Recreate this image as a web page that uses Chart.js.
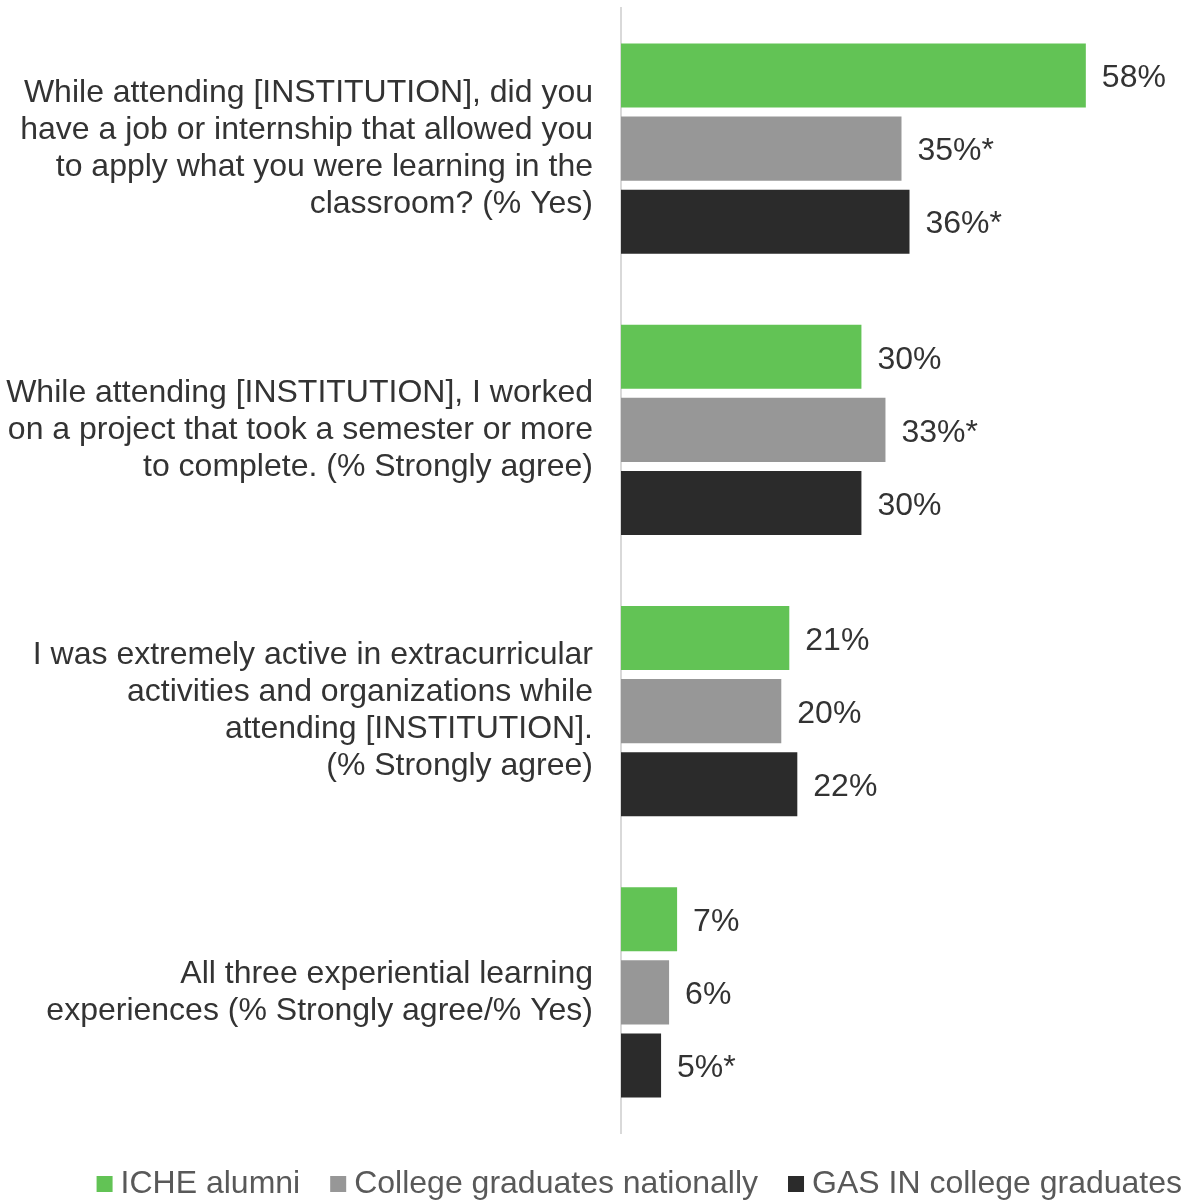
<!DOCTYPE html>
<html>
<head>
<meta charset="utf-8">
<script src="https://cdn.jsdelivr.net/npm/chart.js@4"></script>
<style>
  html, body { margin: 0; padding: 0; background: #fff; }
  #wrap { width: 1187px; height: 1200px; }
</style>
</head>
<body>
<div id="wrap"><canvas id="chart"></canvas></div>
<script>
const questions = [
  ["While attending [INSTITUTION], did you", "have a job or internship that allowed you", "to apply what you were learning in the", "classroom? (% Yes)"],
  ["While attending [INSTITUTION], I worked", "on a project that took a semester or more", "to complete. (% Strongly agree)"],
  ["I was extremely active in extracurricular", "activities and organizations while", "attending [INSTITUTION].", "(% Strongly agree)"],
  ["All three experiential learning", "experiences (% Strongly agree/% Yes)"],
];
const seriesNames = ["ICHE alumni", "College graduates nationally", "GAS IN college graduates"];
const icheAlumni = [58, 30, 21, 7];
const nationalGrads = [35, 33, 20, 6];
const gasInGrads = [36, 30, 22, 5];
// "*" = significant difference vs ICHE alumni
const icheMarks = ["", "", "", ""];
const nationalMarks = ["*", "*", "", ""];
const gasInMarks = ["*", "", "", "*"];
const seriesColors = ["#62c355", "#979797", "#2b2b2b"];

const FONT = "'Liberation Sans', Arial, sans-serif";
const TEXT_COLOR = "#333333";

// value text to the right of each bar
const valueLabels = {
  id: "valueLabels",
  afterDatasetsDraw(chart) {
    const ctx = chart.ctx;
    ctx.save();
    ctx.font = "32px " + FONT;
    ctx.fillStyle = TEXT_COLOR;
    ctx.textAlign = "left";
    ctx.textBaseline = "middle";
    chart.data.datasets.forEach((ds, i) => {
      chart.getDatasetMeta(i).data.forEach((bar, j) => {
        ctx.fillText(ds.data[j] + "%" + ds.marks[j], bar.x + 16, bar.y + 3);
      });
    });
    ctx.restore();
  },
};

// legend row under the plot, tight box-to-text spacing
const bottomLegend = {
  id: "bottomLegend",
  afterDraw(chart) {
    const ctx = chart.ctx;
    ctx.save();
    ctx.font = "32px " + FONT;
    ctx.textBaseline = "middle";
    const box = 16, boxGap = 8, itemGap = 30;
    const widths = seriesNames.map((n) => ctx.measureText(n).width);
    const total =
      widths.reduce((s, w) => s + box + boxGap + w, 0) +
      itemGap * (seriesNames.length - 1);
    let x = chart.width - 5 - total;
    const y = chart.chartArea.bottom + 51;
    seriesNames.forEach((name, i) => {
      ctx.fillStyle = seriesColors[i];
      ctx.fillRect(x, y - box / 2, box, box);
      ctx.fillStyle = "#595959";
      ctx.fillText(name, x + box + boxGap, y);
      x += box + boxGap + widths[i] + itemGap;
    });
    ctx.restore();
  },
};

const datasetDefaults = {
  categoryPercentage: 0.779,
  barPercentage: 0.877,
};

new Chart(document.getElementById("chart").getContext("2d"), {
  type: "bar",
  data: {
    labels: questions,
    datasets: [
      { label: seriesNames[0], data: icheAlumni, marks: icheMarks, backgroundColor: seriesColors[0], ...datasetDefaults },
      { label: seriesNames[1], data: nationalGrads, marks: nationalMarks, backgroundColor: seriesColors[1], ...datasetDefaults },
      { label: seriesNames[2], data: gasInGrads, marks: gasInMarks, backgroundColor: seriesColors[2], ...datasetDefaults },
    ],
  },
  options: {
    indexAxis: "y",
    responsive: true,
    maintainAspectRatio: false,
    animation: false,
    layout: { padding: { top: 8, right: 5, bottom: 67, left: 0 } },
    plugins: {
      legend: { display: false },
      tooltip: { enabled: false },
    },
    scales: {
      x: { display: false, min: 0, max: 70 },
      y: {
        afterFit(scale) {
          // fixed label column, no extra room for the tall first/last labels
          scale.width = 621;
          scale.paddingTop = 0;
          scale.paddingBottom = 0;
        },
        grid: { display: false, drawTicks: false },
        border: { display: true, color: "#d9d9d9", width: 2 },
        ticks: {
          padding: 28,
          color: TEXT_COLOR,
          font: { family: FONT, size: 32, lineHeight: 37 / 32 },
        },
      },
    },
  },
  plugins: [valueLabels, bottomLegend],
});
</script>
</body>
</html>
